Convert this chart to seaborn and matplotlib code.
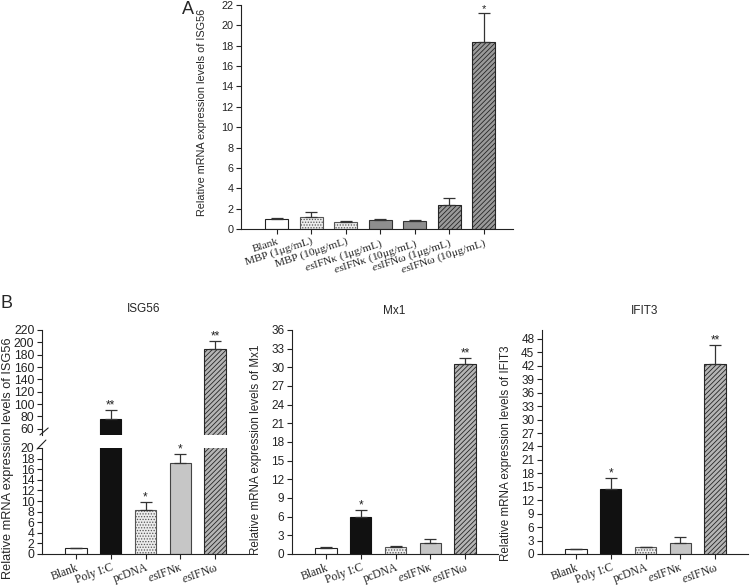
import numpy as np
import matplotlib
matplotlib.use("Agg")
import matplotlib.pyplot as plt
import seaborn as sns

# ---------------- data ----------------
cats_a = ["Blank", "MBP (1μg/mL)", "MBP (10μg/mL)",
          r"$\mathit{es}$IFNκ (1μg/mL)", r"$\mathit{es}$IFNκ (10μg/mL)",
          r"$\mathit{es}$IFNω (1μg/mL)", r"$\mathit{es}$IFNω (10μg/mL)"]
vals_a = [0.98, 1.15, 0.69, 0.87, 0.78, 2.33, 18.35]
errs_a = [0.12, 0.48, 0.13, 0.12, 0.14, 0.69, 2.85]
stars_a = ["", "", "", "", "", "", "*"]

cats_b = ["Blank", "Poly I:C", "pcDNA", r"$\mathit{es}$IFNκ", r"$\mathit{es}$IFNω"]
isg56_vals = [1.05, 76.0, 8.25, 17.15, 189.3]
isg56_errs = [0.10, 14.0, 1.5, 1.7, 13.4]
isg56_stars = ["", "**", "*", "*", "**"]
mx1_vals = [1.0, 6.0, 1.12, 1.7, 30.6]
mx1_errs = [0.10, 1.05, 0.15, 0.70, 0.90]
mx1_stars = ["", "*", "", "", "**"]
ifit3_vals = [1.04, 14.5, 1.56, 2.46, 42.4]
ifit3_errs = [0.10, 2.5, 0.10, 1.40, 4.3]
ifit3_stars = ["", "*", "", "", "**"]

# ---------------- style ----------------
sns.set_style("ticks")
plt.rcParams["font.family"] = ["Liberation Sans", "DejaVu Sans"]
plt.rcParams["mathtext.fontset"] = "custom"
plt.rcParams["mathtext.it"] = "Liberation Serif:italic"
plt.rcParams["mathtext.rm"] = "Liberation Serif"
plt.rcParams["hatch.linewidth"] = 0.6
plt.rcParams["axes.edgecolor"] = "#222222"
plt.rcParams["axes.linewidth"] = 0.8

W, H = 754, 585
fig = plt.figure(figsize=(W / 100, H / 100), dpi=100)


def px_axes(left, top, right, bottom):
    return fig.add_axes([left / W, 1 - bottom / H, (right - left) / W, (bottom - top) / H])


STY_A = [("white", None, "#222222"),
         ("#ececec", "......", "#555555"),
         ("#ececec", "......", "#555555"),
         ("#8e8e8e", None, "#333333"),
         ("#8e8e8e", None, "#333333"),
         ("#9a9a9a", "///////", "#262626"),
         ("#9a9a9a", "///////", "#262626")]
STY_B = [("white", None, "#222222"),
         ("#111111", None, "#111111"),
         ("#ececec", "......", "#555555"),
         ("#c6c6c6", None, "#444444"),
         ("#b5b5b5", "///////", "#262626")]


def draw(ax, cats, vals, errs, styles, width, capsize):
    sns.barplot(x=cats, y=vals, ax=ax, color="white", edgecolor="#222222",
                linewidth=0.8, width=width, errorbar=None)
    for p, (fc, hatch, ec) in zip(ax.patches, styles):
        p.set_facecolor(fc)
        p.set_edgecolor(ec)
        if hatch:
            p.set_hatch(hatch)
    n = len(vals)
    ax.errorbar(np.arange(n), vals, yerr=[np.zeros(n), errs], fmt="none",
                ecolor="#333333", elinewidth=0.9, capsize=capsize, capthick=0.9)


def stars(ax, vals, errs, labels, lo=None, hi=None, fs=8.5):
    for i, (v, e, s) in enumerate(zip(vals, errs, labels)):
        top = v + e
        if not s:
            continue
        if lo is not None and not (lo <= top <= hi):
            continue
        ax.annotate(s, (i, top), xytext=(0, -1), textcoords="offset points",
                    ha="center", va="bottom", fontsize=fs, color="#222222")


def ticks(ax, fs):
    ax.tick_params(axis="both", direction="out", length=3.5, width=0.8,
                   colors="#222222", pad=2)
    ax.tick_params(axis="y", labelsize=fs)


def xlabels(ax, cats, fs=8.4, rot=20):
    ax.set_xticks(range(len(cats)))
    ax.set_xticklabels(cats, rotation=rot, ha="right", rotation_mode="anchor",
                       fontfamily="Liberation Serif", fontsize=fs)


# ---------------- panel A ----------------
axA = px_axes(241, 5, 513, 229)
draw(axA, cats_a, vals_a, errs_a, STY_A, 0.66, 4.5)
stars(axA, vals_a, errs_a, stars_a, fs=8)
axA.set_ylim(0, 22)
axA.set_yticks(np.arange(0, 23, 2))
axA.set_xlim(-1.04, 6.85)
ticks(axA, 7.8)
xlabels(axA, cats_a, fs=8.2, rot=18)
axA.set_ylabel("Relative mRNA expression levels of ISG56", fontsize=7.8)
axA.yaxis.set_label_coords(-0.125, 0.52)
sns.despine(ax=axA)

# ---------------- panel B: ISG56 (broken axis) ----------------
ax_lo = px_axes(42, 448, 248, 554)
ax_hi = px_axes(42, 330, 248, 435)
for ax in (ax_lo, ax_hi):
    draw(ax, cats_b, isg56_vals, isg56_errs, STY_B, 0.62, 4)
    ax.set_xlim(-0.97, 4.94)
ax_lo.set_ylim(0, 20)
ax_lo.set_yticks(np.arange(0, 21, 2))
ax_hi.set_ylim(50, 220)
ax_hi.set_yticks(np.arange(60, 221, 20))
stars(ax_lo, isg56_vals, isg56_errs, isg56_stars, 0, 20)
stars(ax_hi, isg56_vals, isg56_errs, isg56_stars, 50, 220)
ticks(ax_lo, 8.8)
ticks(ax_hi, 8.8)
xlabels(ax_lo, cats_b)
ax_hi.set_xticks([])
ax_hi.set_xlabel("")
ax_lo.set_xlabel("")
sns.despine(ax=ax_lo)
sns.despine(ax=ax_hi, bottom=True)
ax_lo.spines["left"].set_bounds(0, 20)
# break marks
kw = dict(color="#222222", lw=0.8, clip_on=False)
ax_hi.plot([-0.01, 0.03], [-0.0, 0.067], transform=ax_hi.transAxes, **kw)
ax_lo.plot([-0.024, 0.019], [0.99, 1.075], transform=ax_lo.transAxes, **kw)
fig.text(8 / W, 1 - 458 / H, "Relative mRNA expression levels of ISG56",
         rotation=90, ha="center", va="center", fontsize=9.2)
fig.text(144 / W, 1 - 309 / H, "ISG56", ha="center", va="center", fontsize=8.5)

# ---------------- panel B: Mx1 ----------------
axM = px_axes(292, 330, 498, 554)
draw(axM, cats_b, mx1_vals, mx1_errs, STY_B, 0.62, 4)
stars(axM, mx1_vals, mx1_errs, mx1_stars)
axM.set_ylim(0, 36)
axM.set_yticks(np.arange(0, 37, 3))
axM.set_xlim(-0.97, 4.94)
ticks(axM, 8.5)
xlabels(axM, cats_b)
axM.set_ylabel("Relative mRNA expression levels of Mx1", fontsize=8.4)
axM.yaxis.set_label_coords(-0.146, 0.464)
sns.despine(ax=axM)
fig.text(394 / W, 1 - 311 / H, "Mx1", ha="center", va="center", fontsize=8.5)

# ---------------- panel B: IFIT3 ----------------
axI = px_axes(542, 330, 748, 554)
draw(axI, cats_b, ifit3_vals, ifit3_errs, STY_B, 0.62, 4)
stars(axI, ifit3_vals, ifit3_errs, ifit3_stars)
axI.set_ylim(0, 50)
axI.set_yticks(np.arange(0, 49, 3))
axI.set_xlim(-0.97, 4.94)
ticks(axI, 8.5)
xlabels(axI, cats_b)
axI.set_ylabel("Relative mRNA expression levels of IFIT3", fontsize=8.4)
axI.yaxis.set_label_coords(-0.146, 0.45)
sns.despine(ax=axI)
fig.text(645 / W, 1 - 311 / H, "IFIT3", ha="center", va="center", fontsize=8.5)

# panel letters
fig.text(188 / W, 1 - 10 / H, "A", ha="center", va="center", fontsize=13)
fig.text(6 / W, 1 - 304 / H, "B", ha="center", va="center", fontsize=13)

fig.savefig("out.png", dpi=100, facecolor="white")
